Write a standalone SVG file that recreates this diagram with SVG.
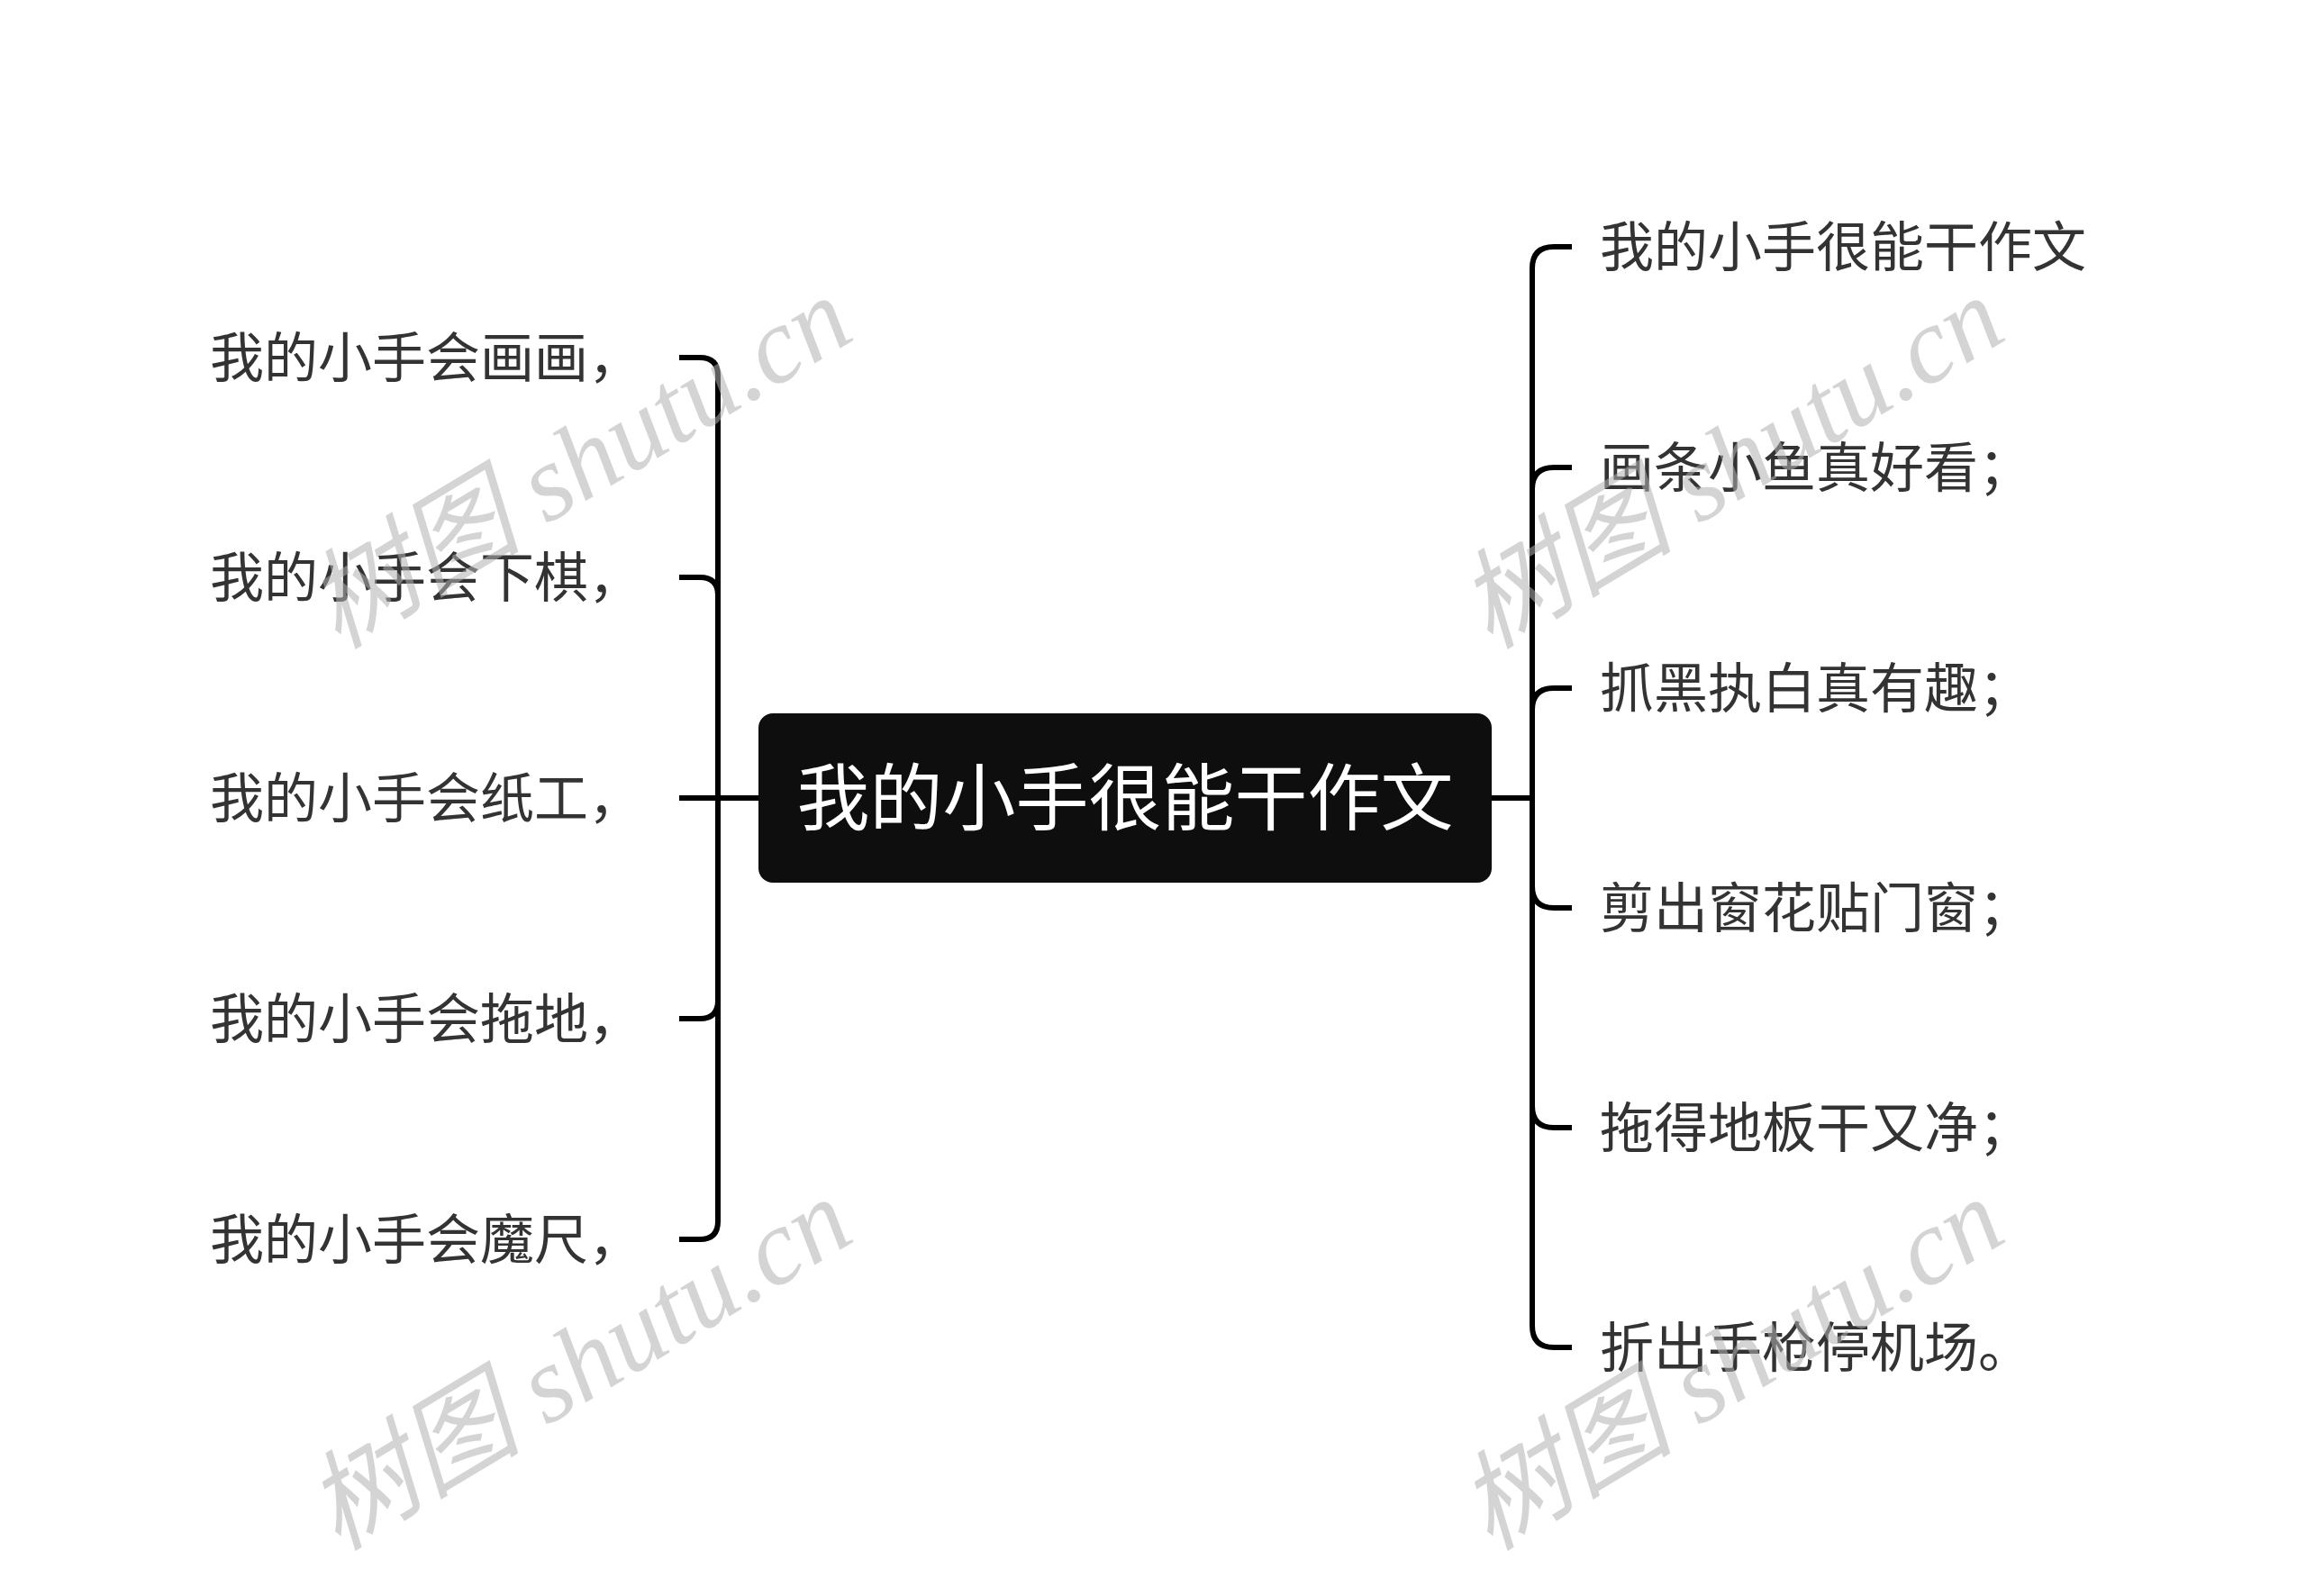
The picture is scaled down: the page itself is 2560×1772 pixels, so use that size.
<svg xmlns="http://www.w3.org/2000/svg" width="2560" height="1772" viewBox="0 0 2560 1772">
<style>
.bg{fill:#ffffff}
.link{fill:none;stroke:#000000;stroke-width:6;stroke-linecap:butt;stroke-linejoin:round}
.root{fill:#0e0e0e}
.rootText{font-family:"Noto Sans CJK SC","Noto Sans",sans-serif;font-size:81px;fill:#ffffff}
.leaf{font-family:"Noto Sans CJK SC","Noto Sans",sans-serif;font-size:60px;fill:#333333}
.wm{font-family:"Liberation Serif","Noto Sans CJK SC",serif;font-size:120px;font-style:italic;fill:#b0b0b0;fill-opacity:0.55}
</style>
<rect class="bg" x="0" y="0" width="2560" height="1772"/>
<g id="connectors">
<path class="link" d="M754,397 H777 Q797,397 797,417 V1356 Q797,1376 777,1376 H754"/>
<path class="link" d="M754,641 H777 Q797,641 797,661"/>
<path class="link" d="M754,1131 H777 Q797,1131 797,1111"/>
<path class="link" d="M754,886 H842"/>
<path class="link" d="M1745,274 H1725 Q1701,274 1701,298 V1472 Q1701,1496 1725,1496 H1745"/>
<path class="link" d="M1745,519 H1725 Q1701,519 1701,543"/>
<path class="link" d="M1745,764 H1725 Q1701,764 1701,788"/>
<path class="link" d="M1745,1008 H1725 Q1701,1008 1701,984"/>
<path class="link" d="M1745,1252 H1725 Q1701,1252 1701,1228"/>
<path class="link" d="M1656,886 H1701"/>
</g>
<g id="root">
<rect class="root" x="842" y="792" width="814" height="188" rx="16" ry="16"/>
<text class="rootText" x="1249" y="915" text-anchor="middle">我的小手很能干作文</text>
</g>
<g id="left1"><text class="leaf" x="233" y="419">我的小手会画画，</text></g>
<g id="left2"><text class="leaf" x="233" y="663">我的小手会下棋，</text></g>
<g id="left3"><text class="leaf" x="233" y="908">我的小手会纸工，</text></g>
<g id="left4"><text class="leaf" x="233" y="1153">我的小手会拖地，</text></g>
<g id="left5"><text class="leaf" x="233" y="1398">我的小手会魔尺，</text></g>
<g id="right1"><text class="leaf" x="1776" y="296">我的小手很能干作文</text></g>
<g id="right2"><text class="leaf" x="1776" y="541">画条小鱼真好看；</text></g>
<g id="right3"><text class="leaf" x="1776" y="786">抓黑执白真有趣；</text></g>
<g id="right4"><text class="leaf" x="1776" y="1030">剪出窗花贴门窗；</text></g>
<g id="right5"><text class="leaf" x="1776" y="1274">拖得地板干又净；</text></g>
<g id="right6"><text class="leaf" x="1776" y="1518">折出手枪停机场。</text></g>
<g id="watermarks">
<text class="wm" transform="translate(643,514) rotate(-31)" x="0" y="40" text-anchor="middle">树图 shutu.cn</text>
<text class="wm" transform="translate(1922,514) rotate(-31)" x="0" y="40" text-anchor="middle">树图 shutu.cn</text>
<text class="wm" transform="translate(643,1515) rotate(-31)" x="0" y="40" text-anchor="middle">树图 shutu.cn</text>
<text class="wm" transform="translate(1922,1515) rotate(-31)" x="0" y="40" text-anchor="middle">树图 shutu.cn</text>
</g>
</svg>
